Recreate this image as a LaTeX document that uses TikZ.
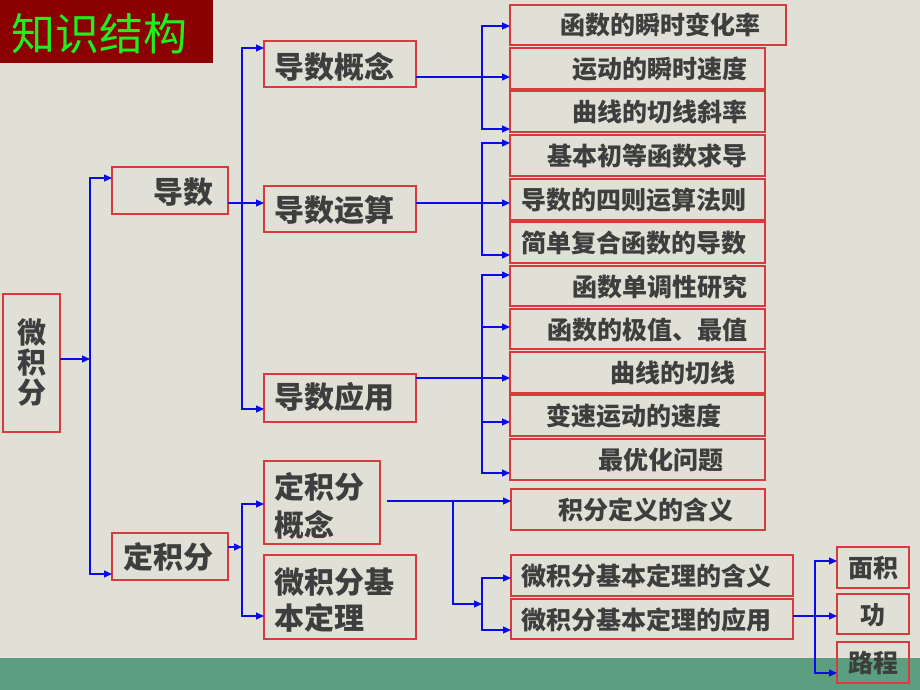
\documentclass[tikz,border=0pt]{standalone}
\usepackage{fontspec}
\setmainfont{Noto Sans CJK SC}
\usetikzlibrary{arrows.meta}
\definecolor{bgc}{RGB}{224,224,214}
\definecolor{bandc}{RGB}{92,158,128}
\definecolor{boxred}{RGB}{218,58,62}
\definecolor{titlered}{RGB}{139,0,0}
\definecolor{titlegreen}{RGB}{30,240,30}
\definecolor{txtc}{RGB}{62,62,62}
\definecolor{linec}{RGB}{10,10,235}
\tikzset{
  box/.style={draw=boxred, line width=1.3pt, rectangle, inner sep=0pt, outer sep=0pt},
  lbl/.style={inner sep=0pt, text=txtc, font=\bfseries\fontsize{25}{30}\selectfont, anchor=west},
  big/.style={inner sep=0pt, text=txtc, font=\bfseries\fontsize{30}{36}\selectfont, anchor=west},
  arr/.style={draw=linec, line width=1.1pt, -{Triangle[length=8pt,width=7pt]}},
  ln/.style={draw=linec, line width=1.1pt}
}
\begin{document}
\begin{tikzpicture}[x=1pt,y=-1pt]
\useasboundingbox (0,0) rectangle (920,690);
\fill[bgc] (0,0) rectangle (920,690);
\fill[bandc] (0,658) rectangle (920,690);
% title
\node[fill=titlered, minimum width=213, minimum height=63, inner sep=0pt, outer sep=0pt] (title) at (106.5,31.5) {};
\node[inner sep=0pt, text=titlegreen, font=\fontsize{44}{48}\selectfont, anchor=west] (titletext) at (11,34) {知识结构};
% left boxes
\node[box, minimum width=57, minimum height=138] (A) at (31.5,363) {};
\node[inner sep=0pt, text=txtc, font=\bfseries\fontsize{29}{30}\selectfont, align=center] (lA) at (32,363) {微\\积\\分};
\node[box, minimum width=116, minimum height=47] (B) at (170,190.5) {};
\node[big] (lB) at (153,192) {导数};
\node[box, minimum width=116, minimum height=47] (C) at (170,556.5) {};
\node[big] (lC) at (123,557) {定积分};
\node[box, minimum width=152, minimum height=46] (D) at (340,64) {};
\node[big] (lD) at (274,67) {导数概念};
\node[box, minimum width=152, minimum height=46] (E) at (340,209) {};
\node[big] (lE) at (274,210) {导数运算};
\node[box, minimum width=152, minimum height=48] (F) at (340,398) {};
\node[big] (lF) at (274,397) {导数应用};
\node[box, minimum width=116, minimum height=83] (G) at (322,502.5) {};
\node[big, align=left, font=\bfseries\fontsize{30}{38}\selectfont] (lG) at (274,506) {定积分\\概念};
\node[box, minimum width=152, minimum height=84] (H) at (340,597) {};
\node[big, align=left, font=\bfseries\fontsize{30}{36.5}\selectfont] (lH) at (274,600) {微积分基\\本定理};
% right boxes
\node[box, minimum width=276, minimum height=40] (r1) at (648,25) {};
\node[lbl] (l1) at (560,25) {函数的瞬时变化率};
\node[box, minimum width=255, minimum height=41] (r2) at (637.5,68.5) {};
\node[lbl] (l2) at (572,69) {运动的瞬时速度};
\node[box, minimum width=255, minimum height=41] (r3) at (637.5,111.5) {};
\node[lbl] (l3) at (572,112) {曲线的切线斜率};
\node[box, minimum width=255, minimum height=41] (r4) at (637.5,155.5) {};
\node[lbl] (l4) at (547,156) {基本初等函数求导};
\node[box, minimum width=255, minimum height=41] (r5) at (637.5,199.5) {};
\node[lbl] (l5) at (521,200) {导数的四则运算法则};
\node[box, minimum width=255, minimum height=41] (r6) at (637.5,242.5) {};
\node[lbl] (l6) at (521,243) {简单复合函数的导数};
\node[box, minimum width=255, minimum height=40] (r7) at (637.5,286) {};
\node[lbl] (l7) at (572,287) {函数单调性研究};
\node[box, minimum width=255, minimum height=40] (r8) at (637.5,329) {};
\node[lbl] (l8) at (547,330) {函数的极值、最值};
\node[box, minimum width=255, minimum height=41] (r9) at (637.5,372.5) {};
\node[lbl] (l9) at (610,373) {曲线的切线};
\node[box, minimum width=255, minimum height=41] (r10) at (637.5,415.5) {};
\node[lbl] (l10) at (546,416) {变速运动的速度};
\node[box, minimum width=255, minimum height=41] (r11) at (637.5,459.5) {};
\node[lbl] (l11) at (598,460) {最优化问题};
\node[box, minimum width=254, minimum height=41] (r12) at (638,509.5) {};
\node[lbl] (l12) at (558,510) {积分定义的含义};
\node[box, minimum width=282, minimum height=41] (r13) at (652,575.5) {};
\node[lbl] (l13) at (521,576) {微积分基本定理的含义};
\node[box, minimum width=282, minimum height=40] (r14) at (652,619) {};
\node[lbl] (l14) at (521,620) {微积分基本定理的应用};
% far right
\node[box, minimum width=72, minimum height=41] (s1) at (873,567.5) {};
\node[lbl] (m1) at (848,568) {面积};
\node[box, minimum width=72, minimum height=40] (s2) at (873,614) {};
\node[lbl, anchor=center] (m2) at (873,615) {功};
\node[box, minimum width=72, minimum height=41] (s3) at (873,662.5) {};
\node[lbl] (m3) at (848,663) {路程};
% junction coordinates
\coordinate (j1) at (90,359);
\coordinate (j2) at (242,203);
\coordinate (j3) at (482,77);
\coordinate (j4) at (482,203);
\coordinate (j5) at (482,378);
\coordinate (j6) at (242,547);
\coordinate (j7) at (453,501);
\coordinate (j8) at (482,604);
\coordinate (j9) at (815,616);
% connectors
\draw[arr] (A.east |- j1) -- (j1);
\draw[arr] (j1) |- (B.west |- 0,178);
\draw[arr] (j1) |- (C.west |- 0,574);
\draw[arr] (B.east |- j2) -- (E.west |- j2);
\draw[arr] (j2) |- (D.west |- 0,48);
\draw[arr] (j2) |- (F.west |- 0,409);
\draw[arr] (D.east |- j3) -- (r2.west |- j3);
\draw[arr] (j3) |- (r1.west |- 0,26);
\draw[arr] (j3) |- (r3.west |- 0,129);
\draw[arr] (E.east |- j4) -- (r5.west |- j4);
\draw[arr] (j4) |- (r4.west |- 0,143);
\draw[arr] (j4) |- (r6.west |- 0,255);
\draw[arr] (F.east |- j5) -- (r9.west |- j5);
\draw[arr] (j5) |- (r7.west |- 0,275);
\draw[arr] (j5) |- (r8.west |- 0,327);
\draw[arr] (j5) |- (r10.west |- 0,422);
\draw[arr] (j5) |- (r11.west |- 0,473);
\draw[arr] (C.east |- j6) -- (j6);
\draw[arr] (j6) |- (G.west |- 0,504);
\draw[arr] (j6) |- (H.west |- 0,616);
\draw[arr] ([xshift=7pt]G.east |- j7) -- (r12.west |- j7);
\draw[arr] (j7) |- (j8);
\draw[arr] (j8) |- (r13.west |- 0,578);
\draw[arr] (j8) |- (r14.west |- 0,630);
\draw[arr] (r14.east |- j9) -- (s2.west |- j9);
\draw[arr] (j9) |- (s1.west |- 0,561);
\draw[arr] (j9) |- (s3.west |- 0,673);
\end{tikzpicture}
\end{document}
